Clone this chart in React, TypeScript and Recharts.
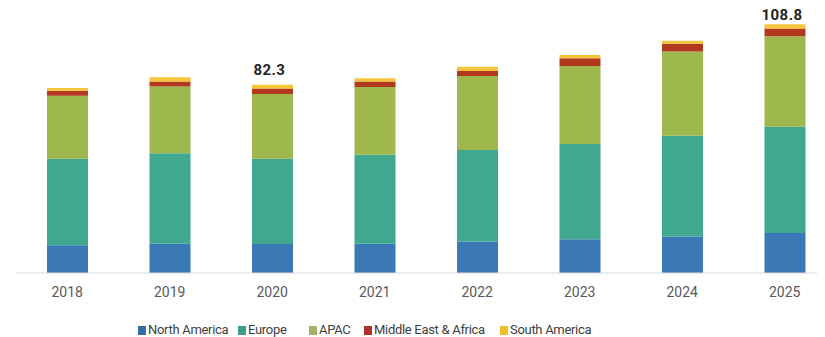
import { BarChart, Bar, XAxis, YAxis, Legend, LabelList } from 'recharts'

const years = ['2018', '2019', '2020', '2021', '2022', '2023', '2024', '2025']
const northAmerica = [12.1, 12.8, 12.7, 12.8, 13.8, 14.8, 16.0, 17.5]
const europe = [37.9, 39.6, 37.3, 38.9, 40.0, 41.6, 44.0, 46.4]
const apac = [27.5, 29.1, 28.3, 29.6, 32.3, 34.1, 36.8, 39.6]
const mea = [2.2, 2.2, 2.4, 2.4, 2.2, 3.4, 3.4, 3.4]
const southAmerica = [1.2, 1.9, 1.6, 1.5, 1.9, 1.4, 1.4, 1.9]
const totalLabels = ['', '', '82.3', '', '', '', '', '108.8']

const series = [
  { key: 'northAmerica', name: 'North America', color: '#3b78b6', legend: '#336fa3' },
  { key: 'europe', name: 'Europe', color: '#41a890', legend: '#3d9d89' },
  { key: 'apac', name: 'APAC', color: '#9fb84e', legend: '#a3b36c' },
  { key: 'mea', name: 'Middle East & Africa', color: '#b2391d', legend: '#b0302c' },
  { key: 'southAmerica', name: 'South America', color: '#f5c53c', legend: '#efbf2e' },
]

// x offsets of legend squares, chart coords
const legendX = [130, 230, 301, 356, 492]
// label gap above the bar top (the 2025 one sits tighter in the original)
const labelGap: Record<number, number> = { 2: 10, 7: 4 }

const data = years.map((year, i) => ({
  year,
  northAmerica: northAmerica[i],
  europe: europe[i],
  apac: apac[i],
  mea: mea[i],
  southAmerica: southAmerica[i],
  label: totalLabels[i],
}))

const TotalLabel = (props: any) => {
  const { x, y, width, index } = props
  const text = totalLabels[index]
  if (!text) return null
  return (
    <text
      x={x + width / 2 - 3}
      y={y - (labelGap[index] ?? 8)}
      textAnchor="middle"
      fontSize={15}
      fontWeight={700}
      fill="#222"
      fontFamily="Roboto, sans-serif"
      letterSpacing={0.4}
    >
      {text}
    </text>
  )
}

const CustomLegend = () => (
  <div style={{ position: 'relative', height: 34, width: 828, fontFamily: 'Roboto, sans-serif' }}>
    {series.map((s, i) => (
      <div
        key={s.key}
        style={{
          position: 'absolute',
          left: legendX[i],
          top: 20,
          display: 'flex',
          alignItems: 'center',
          fontSize: 13,
          lineHeight: '14px',
          color: '#404040',
          whiteSpace: 'nowrap',
          letterSpacing: -0.3,
        }}
      >
        <span style={{ display: 'inline-block', width: 8, height: 9, background: s.legend, marginRight: 2 }} />
        {s.name}
      </div>
    ))}
  </div>
)

export default function App() {
  return (
    <div style={{ width: 817, height: 337, marginTop: -8, overflow: 'hidden' }}>
      <BarChart width={828} height={337} data={data} margin={{ top: 10, right: 0, bottom: 0, left: 8 }}>
        <XAxis
          dataKey="year"
          axisLine={{ stroke: '#d9d9d9' }}
          tickLine={false}
          tickMargin={8}
          tick={{ fontSize: 14, fill: '#595959', fontFamily: 'Roboto, sans-serif' }}
          height={30}
        />
        <YAxis hide domain={[0, 115]} allowDataOverflow />
        <Legend verticalAlign="bottom" height={34} content={<CustomLegend />} wrapperStyle={{ left: 0, bottom: 0 }} />
        {series.map((s, i) => (
          <Bar key={s.key} dataKey={s.key} name={s.name} stackId="a" fill={s.color} barSize={41} isAnimationActive={false}>
            {i === series.length - 1 && <LabelList dataKey="label" content={TotalLabel} />}
          </Bar>
        ))}
      </BarChart>
    </div>
  )
}
